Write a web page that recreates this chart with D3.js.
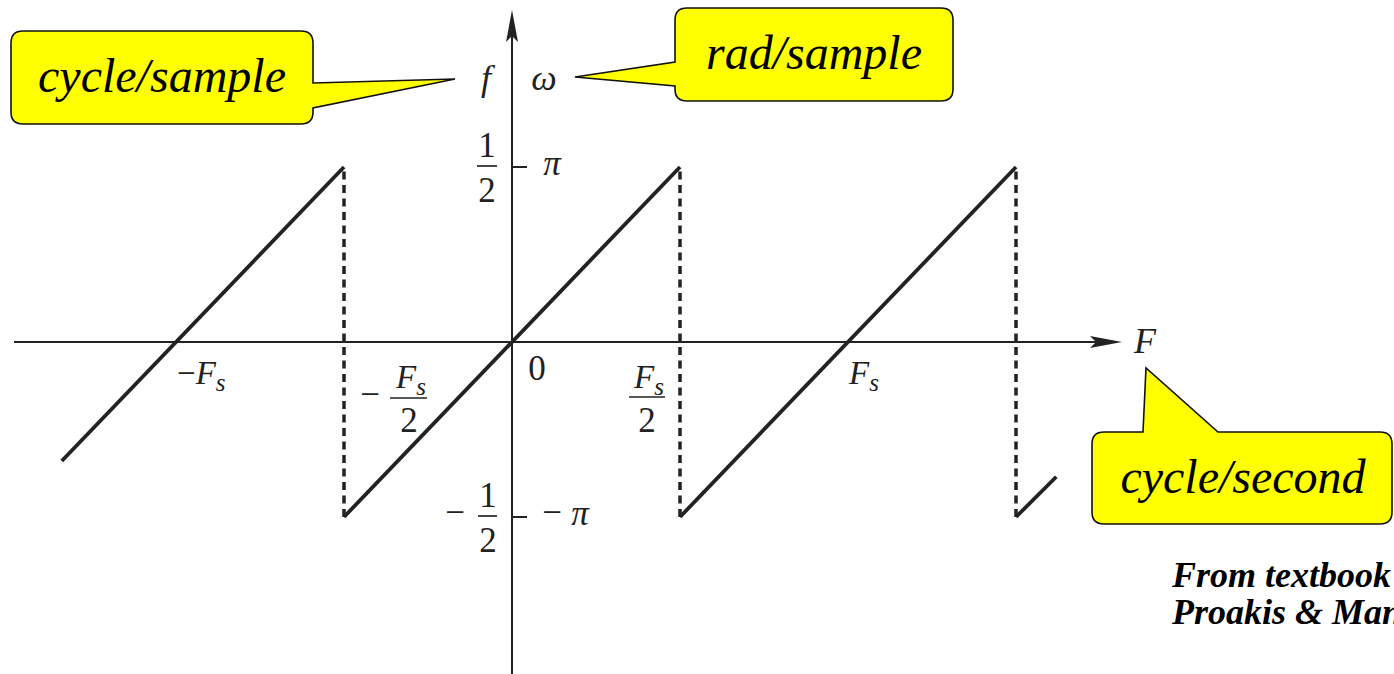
<!DOCTYPE html>
<html><head><meta charset="utf-8">
<script src="https://cdn.jsdelivr.net/npm/d3@7"></script>
<style>html,body{margin:0;padding:0;background:#fff;overflow:hidden} text{font-family:"Liberation Serif","Times New Roman",Tinos,"DejaVu Serif",serif}</style>
</head><body>
<svg id="c" width="1394" height="674"></svg>
<script>
// ---- data ----
// solid sawtooth segments: [F/Fs, f]
const segA = [[-1.34, -0.34], [-0.5, 0.5]];
const segB = [[-0.5, -0.5], [0.5, 0.5]];
const segC = [[0.5, -0.5], [1.5, 0.5]];
const segD = [[1.5, -0.5], [1.62, -0.385]];
const solidSegments = [segA, segB, segC, segD];
// dashed jump positions (F/Fs), spanning f from -1/2 to 1/2
const jumpF = [-0.5, 0.5, 1.5];
const jumpRange = [-0.5, 0.5];
// x tick positions and labels
const xTickF = [-1, -0.5, 0, 0.5, 1];
const xTickLabels = ["−F_s", "−F_s/2", "0", "F_s/2", "F_s"];
// y tick values and labels
const yTickF = [0.5, -0.5];
const yTickLeft = ["1/2", "−1/2"];
const yTickRight = ["π", "−π"];
const callouts = ["cycle/sample", "rad/sample", "cycle/second"];
const creditLines = ["From textbook", "Proakis & Manolakis"];

// ---- scales ----
const x = d3.scaleLinear().domain([0, 1]).range([512, 848]);
const y = d3.scaleLinear().domain([0, 0.5]).range([342, 167]);

const svg = d3.select("#c");
const ink = "#222";

// axes
const xAxisEnd = 1122, yAxisTop = 10;
svg.append("line").attr("x1", 14).attr("x2", xAxisEnd - 10).attr("y1", y(0)).attr("y2", y(0))
  .attr("stroke", ink).attr("stroke-width", 2);
svg.append("path").attr("d", `M${xAxisEnd},${y(0)} L${xAxisEnd-32},${y(0)-6} L${xAxisEnd-26},${y(0)} L${xAxisEnd-32},${y(0)+6} Z`).attr("fill", ink);
svg.append("line").attr("x1", x(0)).attr("x2", x(0)).attr("y1", 674).attr("y2", yAxisTop + 10)
  .attr("stroke", ink).attr("stroke-width", 2);
svg.append("path").attr("d", `M${x(0)},${yAxisTop} L${x(0)-6},${yAxisTop+32} L${x(0)},${yAxisTop+26} L${x(0)+6},${yAxisTop+32} Z`).attr("fill", ink);

// y ticks
yTickF.forEach(v => {
  svg.append("line").attr("x1", x(0)).attr("x2", x(0) + 15).attr("y1", y(v)).attr("y2", y(v))
    .attr("stroke", ink).attr("stroke-width", 2);
});

// dashed jumps
svg.selectAll(".jump").data(jumpF).enter().append("line")
  .attr("x1", d => x(d)).attr("x2", d => x(d))
  .attr("y1", y(jumpRange[0])).attr("y2", y(jumpRange[1]))
  .attr("stroke", ink).attr("stroke-width", 3.5).attr("stroke-dasharray", "8,5.5");

// sawtooth
const line = d3.line().x(d => x(d[0])).y(d => y(d[1]));
svg.selectAll(".seg").data(solidSegments).enter().append("path")
  .attr("d", line).attr("fill", "none").attr("stroke", ink).attr("stroke-width", 3.8).attr("stroke-linecap", "butt");

// helpers for math text
const fs = 35;
function mtext(xp, yp, str, opts = {}) {
  return svg.append("text").attr("x", xp).attr("y", yp)
    .attr("font-size", opts.size || fs)
    .attr("font-style", opts.italic ? "italic" : "normal")
    .attr("text-anchor", opts.anchor || "middle").attr("fill", ink).text(str);
}
function Fs(xp, yp, anchor, minus) {
  const t = svg.append("text").attr("x", xp).attr("y", yp)
    .attr("font-size", 33).attr("fill", ink).attr("text-anchor", anchor || "middle");
  if (minus) t.append("tspan").text("−");
  t.append("tspan").attr("font-style", "italic").text("F");
  t.append("tspan").attr("font-style", "italic").attr("font-size", 25).attr("dy", 7).text("s");
  return t;
}
function fracBar(x1, x2, yy) {
  svg.append("line").attr("x1", x1).attr("x2", x2).attr("y1", yy).attr("y2", yy)
    .attr("stroke", ink).attr("stroke-width", 1.7);
}

// x tick labels
Fs(x(xTickF[0]) + 1, 384, "start", true);          // −Fs
mtext(370, 406, "−");                                // −Fs/2
Fs(411, 388);
fracBar(390, 427, 398);
mtext(409, 432, "2");
mtext(537, 380, xTickLabels[2]);                     // 0
Fs(649, 388);                                        // Fs/2
fracBar(629, 665, 397);
mtext(647, 432, "2");
Fs(x(xTickF[4]) + 1, 384, "start");                  // Fs

// y tick labels
mtext(487, 157, "1");
fracBar(477, 497, 166);
mtext(487, 202, "2");
mtext(552, 175, "π", {italic: true});
mtext(455, 524, "−");
mtext(488, 507, "1");
fracBar(478, 497, 516);
mtext(488, 552, "2");
mtext(552, 524, "−");
mtext(580, 525, "π", {italic: true});

// axis names
mtext(486, 90, "f", {italic: true, size: 36});
mtext(544, 90, "ω", {italic: true, size: 36});
mtext(1145, 353, "F", {italic: true, size: 36});

// callouts
function callout(pathD, tx, ty, label) {
  svg.append("path").attr("d", pathD).attr("fill", "#ffff00").attr("stroke", "#111").attr("stroke-width", 1.6)
    .attr("stroke-linejoin", "miter");
  svg.append("text").attr("x", tx).attr("y", ty).attr("font-style", "italic")
    .attr("font-size", 48).attr("text-anchor", "middle").attr("fill", "#000").text(label);
}
const r = 12;
callout(`M${11+r},31 H${313-r} Q313,31 313,${31+r} V83 L455,79 L313,108 V${124-r} Q313,124 ${313-r},124 H${11+r} Q11,124 11,${124-r} V${31+r} Q11,31 ${11+r},31 Z`,
  162, 92, callouts[0]);
callout(`M${675+r},8 H${953-r} Q953,8 953,${8+r} V${101-r} Q953,101 ${953-r},101 H${675+r} Q675,101 675,${101-r} V86 L575,77 L675,62 V${8+r} Q675,8 ${675+r},8 Z`,
  814, 69, callouts[1]);
callout(`M${1092+r},432 H1143 L1146,368 L1218,432 H${1392-r} Q1392,432 1392,${432+r} V${524-r} Q1392,524 ${1392-r},524 H${1092+r} Q1092,524 1092,${524-r} V${432+r} Q1092,432 ${1092+r},432 Z`,
  1243, 493, callouts[2]);

// credit (clipped at the right edge, as in the reference)
creditLines.forEach((s, i) => {
  svg.append("text").attr("x", 1172).attr("y", 587 + i * 37)
    .attr("font-style", "italic").attr("font-weight", "bold").attr("font-size", 36).attr("fill", "#000").text(s);
});
</script>
</body></html>
